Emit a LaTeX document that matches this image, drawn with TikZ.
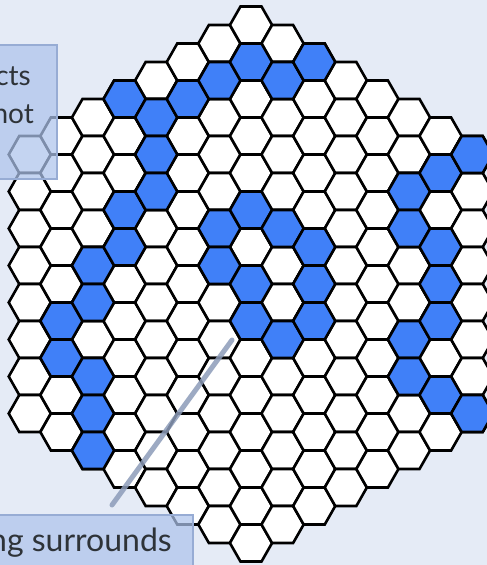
\documentclass[tikz,border=0pt]{standalone}
\usepackage{fontspec}
\setmainfont{Lato}
\usepackage{xcolor}
\definecolor{board-blue}{HTML}{4080F8}
\definecolor{paper}{HTML}{E5EBF6}
\definecolor{note-fill}{HTML}{AEC4EC}
\definecolor{note-edge}{HTML}{97ACD4}
\definecolor{pointer}{HTML}{8C9CB9}
\definecolor{note-text}{HTML}{2E3338}

% one flat-topped cell round the current point
\newcommand{\hexcell}{+(21.07,0) -- +(10.53,18.5) -- +(-10.53,18.5) -- +(-21.07,0) -- +(-10.53,-18.5) -- +(10.53,-18.5) -- cycle}

\begin{document}
\begin{tikzpicture}[x=1pt, y=-1pt,
    every node/.style={font=\fontsize{28}{32}\selectfont, text=note-text, inner sep=0pt},
    cell/.style={line width=2.6pt, draw=black, fill=white},
    note/.style={fill=note-fill, fill opacity=0.72, draw=note-edge, line width=1.5pt}]
  \useasboundingbox (0,0) rectangle (487,565);
  \clip (0,0) rectangle (487,565);
  \fill[paper] (0,0) rectangle (487,565);
  % board
  \foreach \c in {-7,...,7} {
    \pgfmathtruncatemacro{\last}{14-abs(\c)}
    \foreach \k in {0,...,\last} {
      \filldraw[cell] ({251+31.6*\c},{25+18.5*abs(\c)+37*\k}) \hexcell;
    }
  }
  % blue stones
  \foreach \c/\k in {-6/5, -6/6, -5/4, -5/5, -5/7, -5/8, -5/9, -4/0, -4/3, -4/4,
      -3/1, -3/2, -3/3, -2/1, -1/1, -1/5, -1/6, 0/1, 0/5, 0/7, 0/8, 1/1, 1/5, 1/8,
      2/0, 2/5, 2/6, 2/7, 5/2, 5/3, 5/6, 5/7, 6/1, 6/3, 6/4, 6/5, 6/7, 7/0, 7/7} {
    \filldraw[cell, fill=board-blue] ({251+31.6*\c},{25+18.5*abs(\c)+37*\k}) \hexcell;
  }
  % pointer
  \coordinate (pointer-base) at (112,505);
  \coordinate (pointer-tip) at (232,340);
  \draw[pointer, line width=5pt, line cap=round, opacity=0.85] (pointer-base) -- (pointer-tip);
  % notes
  \draw[note] (-10,45) rectangle (57,179);
  \node[anchor=base east] (note-cts) at (31,85) {cts};
  \node[anchor=base east] (note-not) at (34,123) {not};
  \draw[note] (-10,515) rectangle (193,580);
  \node[anchor=base east, font=\fontsize{32}{36}\selectfont] (note-surrounds) at (172,551) {ng surrounds};
\end{tikzpicture}
\end{document}
